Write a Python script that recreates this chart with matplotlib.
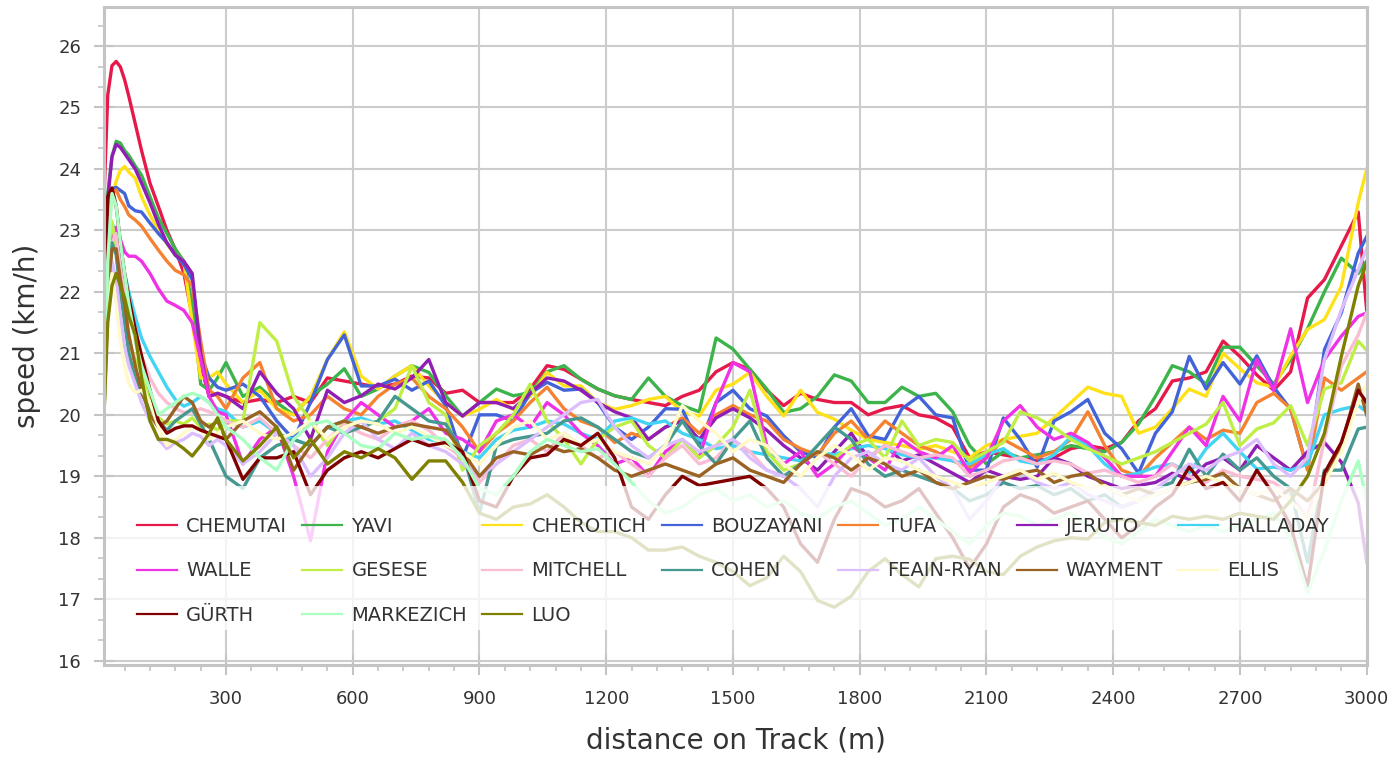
import matplotlib
matplotlib.use("Agg")
import matplotlib.pyplot as plt
from matplotlib.ticker import MultipleLocator
from matplotlib.patches import Rectangle

distance = [10, 20, 30, 40, 50, 60, 70, 85, 100, 120, 140, 160, 180, 200, 220, 240, 260, 280,
            300, 340, 380, 420, 460, 500, 540, 580, 620, 660,
            700, 740, 780, 820, 860, 900, 940, 980, 1020, 1060,
            1100, 1140, 1180, 1220, 1260, 1300, 1340, 1380, 1420, 1460,
            1500, 1540, 1580, 1620, 1660, 1700, 1740, 1780, 1820, 1860,
            1900, 1940, 1980, 2020, 2060, 2100, 2140, 2180, 2220, 2260,
            2300, 2340, 2380, 2420, 2460, 2500, 2540, 2580, 2620, 2660,
            2700, 2740, 2780, 2820, 2860, 2900, 2940, 2980, 3000]

chemutai = [
    23.3, 25.2, 25.68, 25.75, 25.66, 25.45, 25.18, 24.74, 24.3, 23.77, 23.39, 23.0, 22.69, 22.31, 21.6, 20.8, 20.3, 20.35,
    20.3, 20.2, 20.25, 20.2, 20.3, 20.2, 20.6, 20.55, 20.5, 20.45,
    20.5, 20.63, 20.6, 20.35, 20.4, 20.2, 20.2, 20.2, 20.42, 20.8,
    20.74, 20.58, 20.42, 20.31, 20.25, 20.2, 20.15, 20.3, 20.4, 20.7,
    20.85, 20.74, 20.4, 20.15, 20.35, 20.25, 20.2, 20.2, 20.0, 20.1,
    20.15, 20.0, 19.95, 19.8, 19.3, 19.4, 19.35, 19.3, 19.25, 19.3,
    19.45, 19.5, 19.45, 19.55, 19.9, 20.1, 20.55, 20.6, 20.7, 21.2,
    20.95, 20.65, 20.4, 20.7, 21.9, 22.2, 22.75, 23.3, 21.7]

yavi = [
    22.3, 23.6, 24.2, 24.45, 24.42, 24.3, 24.22, 24.05, 23.9, 23.55, 23.2, 22.95, 22.7, 22.5, 21.8, 20.5, 20.4, 20.6,
    20.85, 20.3, 20.45, 20.2, 20.0, 20.3, 20.5, 20.75, 20.3, 20.42,
    20.63, 20.8, 20.69, 20.31, 19.98, 20.2, 20.42, 20.31, 20.36, 20.7,
    20.8, 20.58, 20.42, 20.31, 20.25, 20.6, 20.3, 20.15, 20.05, 21.25,
    21.07, 20.74, 20.42, 20.04, 20.1, 20.3, 20.65, 20.55, 20.2, 20.2,
    20.45, 20.3, 20.35, 20.05, 19.5, 19.2, 19.4, 19.3, 19.35, 19.4,
    19.5, 19.45, 19.4, 19.55, 19.85, 20.3, 20.8, 20.7, 20.5, 21.1,
    21.1, 20.8, 20.5, 20.9, 21.4, 22.0, 22.55, 22.3, 22.5]

cherotich = [
    21.5, 23.0, 23.55, 23.8, 23.98, 24.04, 23.95, 23.85, 23.55, 23.25, 23.0, 22.78, 22.6, 22.5, 21.5, 20.6, 20.6, 20.7,
    20.5, 20.2, 20.4, 20.1, 20.0, 20.3, 20.9, 21.35, 20.63, 20.42,
    20.63, 20.8, 20.47, 20.2, 19.98, 20.09, 20.25, 20.09, 20.3, 20.69,
    20.47, 20.47, 20.2, 20.09, 20.15, 20.25, 20.3, 20.05, 19.98, 20.4,
    20.5, 20.69, 20.3, 19.98, 20.4, 20.04, 19.93, 19.75, 19.6, 19.55,
    19.5, 19.44, 19.5, 19.4, 19.3, 19.5, 19.6, 19.65, 19.7, 19.95,
    20.2, 20.45, 20.35, 20.3, 19.7, 19.8, 20.1, 20.42, 20.3, 21.0,
    20.75, 20.52, 20.45, 20.96, 21.39, 21.55, 22.09, 23.45, 24.0]

bouzayani = [
    22.0, 23.4, 23.68, 23.7, 23.65, 23.6, 23.4, 23.32, 23.3, 23.12, 22.95, 22.8, 22.6, 22.45, 22.2, 21.0, 20.6, 20.45,
    20.4, 20.5, 20.3, 19.9, 19.6, 20.2, 20.9, 21.3, 20.47, 20.47,
    20.58, 20.4, 20.55, 20.15, 19.3, 20.0, 20.0, 19.9, 20.35, 20.53,
    20.4, 20.42, 20.2, 19.8, 19.6, 19.8, 20.1, 20.09, 19.5, 20.2,
    20.4, 20.1, 19.98, 19.66, 19.4, 19.3, 19.8, 20.1, 19.66, 19.6,
    20.1, 20.3, 20.0, 19.95, 19.1, 19.1, 19.95, 19.6, 19.15, 19.9,
    20.05, 20.25, 19.7, 19.45, 19.05, 19.7, 20.05, 20.95, 20.42, 20.85,
    20.5, 20.96, 20.45, 20.09, 19.12, 21.06, 21.66, 22.63, 22.9]

tufa = [
    21.5, 23.3, 23.6, 23.66, 23.5, 23.39, 23.25, 23.17, 23.07, 22.87, 22.68, 22.5, 22.35, 22.28, 22.1, 21.2, 20.4, 20.3,
    20.1, 20.6, 20.85, 20.1, 19.9, 20.0, 20.3, 20.1, 20.0, 20.3,
    20.5, 20.6, 20.3, 20.1, 19.8, 19.4, 19.7, 19.9, 20.2, 20.45,
    20.1, 19.9, 19.8, 19.55, 19.7, 19.6, 19.8, 19.95, 19.7, 20.0,
    20.15, 20.0, 19.9, 19.6, 19.45, 19.35, 19.7, 19.9, 19.6, 19.9,
    19.7, 19.5, 19.4, 19.25, 19.15, 19.3, 19.6, 19.45, 19.3, 19.4,
    19.6, 20.05, 19.5, 19.1, 19.0, 19.3, 19.55, 19.8, 19.6, 19.75,
    19.7, 20.2, 20.35, 20.1, 19.1, 20.6, 20.4, 20.6, 20.7]

jeruto = [
    22.0, 23.5, 24.2, 24.4, 24.35, 24.25, 24.15, 24.0, 23.77, 23.45, 23.1, 22.8, 22.6, 22.5, 22.3, 21.0, 20.3, 20.35,
    20.3, 20.1, 20.7, 20.35, 20.1, 19.6, 20.4, 20.2, 20.31, 20.5,
    20.42, 20.6, 20.9, 20.2, 19.98, 20.2, 20.2, 20.1, 20.35, 20.6,
    20.55, 20.4, 20.2, 20.05, 19.95, 19.6, 19.8, 19.9, 19.6, 19.95,
    20.1, 19.95, 19.75, 19.5, 19.3, 19.1, 19.4, 19.7, 19.3, 19.5,
    19.25, 19.35, 19.2, 19.05, 18.9, 19.1, 19.0, 18.95, 19.0, 19.3,
    19.2, 19.0, 18.9, 18.8, 18.85, 18.9, 19.05, 18.95, 19.2, 19.3,
    19.1, 19.5, 19.3, 19.1, 19.4, 19.55, 19.23, 18.57, 17.6]

halladay = [
    21.0, 22.6, 23.1, 23.0, 22.7, 22.3, 22.0, 21.6, 21.25, 20.95, 20.7, 20.45, 20.25, 20.14, 20.2, 20.3, 20.2, 20.1,
    20.05, 19.8, 19.9, 19.7, 19.6, 19.5, 19.8, 19.9, 19.95, 19.85,
    19.9, 19.75, 19.6, 19.55, 19.4, 19.3, 19.6, 19.75, 19.8, 19.9,
    19.85, 19.7, 19.6, 19.9, 19.95, 19.85, 19.9, 19.7, 19.6, 19.45,
    19.5, 19.4, 19.35, 19.3, 19.25, 19.4, 19.35, 19.45, 19.5, 19.45,
    19.35, 19.3, 19.3, 19.25, 19.2, 19.35, 19.45, 19.25, 19.2, 19.35,
    19.65, 19.5, 19.2, 19.0, 19.05, 19.15, 19.2, 19.05, 19.45, 19.7,
    19.4, 19.12, 19.15, 19.1, 19.2, 20.0, 20.09, 20.15, 20.05]

walle = [
    21.0, 22.4, 22.9, 23.05, 22.85, 22.65, 22.58, 22.58, 22.5, 22.3, 22.05, 21.85, 21.78, 21.7, 21.5, 20.9, 20.3, 20.05,
    20.0, 19.2, 19.6, 19.8, 19.0, 17.95, 19.4, 19.9, 20.2, 20.0,
    19.8, 19.9, 20.1, 19.7, 19.6, 19.4, 19.9, 20.0, 19.8, 20.2,
    20.0, 19.7, 19.5, 19.2, 19.3, 19.0, 19.4, 19.6, 19.3, 20.2,
    20.85, 20.7, 19.5, 19.2, 19.4, 19.0, 19.2, 19.5, 19.3, 19.1,
    19.6, 19.4, 19.3, 19.5, 19.06, 19.3, 19.9, 20.15, 19.8, 19.6,
    19.7, 19.55, 19.3, 19.0, 19.0, 19.0, 19.4, 19.8, 19.5, 20.3,
    19.9, 20.9, 20.4, 21.4, 20.2, 20.9, 21.28, 21.6, 21.66]

gesese = [
    21.0, 22.6, 23.15, 22.7, 22.0, 21.6, 21.2, 20.9, 20.7, 20.3, 19.95, 19.85, 19.9, 19.85, 19.95, 19.8, 19.85, 19.75,
    19.9, 19.9, 21.5, 21.2, 20.3, 19.9, 19.5, 19.9, 19.8, 19.9,
    20.1, 20.8, 20.2, 20.0, 19.1, 19.5, 19.7, 20.0, 20.5, 19.9,
    19.6, 19.2, 19.6, 19.8, 19.9, 19.5, 19.3, 19.6, 19.3, 19.5,
    19.8, 20.4, 19.4, 19.1, 19.2, 19.4, 19.3, 19.5, 19.6, 19.3,
    19.9, 19.5, 19.6, 19.55, 19.25, 19.4, 19.55, 20.05, 19.95, 19.8,
    19.6, 19.45, 19.33, 19.2, 19.3, 19.4, 19.55, 19.7, 19.85, 20.2,
    19.5, 19.77, 19.87, 20.15, 19.5, 20.42, 20.52, 21.2, 21.05]

mitchell = [
    20.5, 22.0, 22.8, 22.95, 22.4, 22.0, 21.7, 21.33, 20.96, 20.6, 20.35, 20.2, 20.1, 20.04, 20.05, 20.1, 20.05, 20.0,
    19.9, 19.8, 19.95, 19.7, 19.5, 19.3, 19.6, 19.85, 19.7, 19.6,
    19.8, 19.9, 19.75, 19.5, 19.3, 18.9, 19.2, 19.5, 19.6, 19.4,
    19.7, 19.5, 19.3, 19.4, 19.2, 19.0, 19.3, 19.5, 19.2, 19.3,
    19.6, 19.4, 19.1, 19.0, 19.2, 19.4, 19.2, 19.0, 19.3, 19.5,
    19.4, 19.3, 19.35, 19.3, 19.0, 19.1, 19.25, 19.3, 19.2, 19.25,
    19.2, 19.05, 19.1, 19.0, 18.9, 19.0, 19.2, 19.0, 18.9, 19.1,
    19.0, 18.95, 18.9, 18.7, 18.3, 19.6, 20.79, 21.3, 21.66]

cohen = [
    19.8, 21.8, 22.8, 22.6, 22.0, 21.5, 21.0, 20.6, 20.35, 20.1, 19.9, 19.75, 19.9, 20.0, 20.1, 19.85, 19.6, 19.3,
    19.0, 18.8, 19.3, 19.5, 19.6, 19.5, 19.8, 19.7, 19.8, 19.9,
    20.3, 20.1, 19.9, 19.85, 19.4, 18.4, 19.5, 19.6, 19.65, 19.7,
    19.9, 19.95, 19.8, 19.6, 19.4, 19.3, 19.5, 19.9, 19.5, 19.2,
    19.6, 19.9, 19.3, 19.0, 19.2, 19.5, 19.8, 19.6, 19.2, 19.0,
    19.1, 19.0, 18.9, 18.8, 18.6, 18.7, 18.9, 18.8, 18.85, 18.7,
    18.8, 18.6, 18.7, 18.5, 18.6, 18.8, 18.9, 19.44, 19.0, 19.36,
    19.1, 19.3, 19.0, 18.8, 17.6, 19.1, 19.1, 19.77, 19.8]

feain_ryan = [
    20.0, 21.8, 22.5, 22.2, 21.6, 21.1, 20.8, 20.5, 20.2, 19.9, 19.6, 19.45, 19.55, 19.6, 19.7, 19.65, 19.5, 19.6,
    19.5, 19.2, 19.4, 19.7, 19.5, 19.0, 19.3, 19.7, 19.9, 19.6,
    19.45, 19.7, 19.5, 19.4, 19.2, 19.0, 19.2, 19.4, 19.6, 19.8,
    20.0, 20.2, 20.25, 19.8, 19.5, 19.3, 19.5, 19.6, 19.4, 19.5,
    19.6, 19.3, 19.1, 19.0, 18.8, 18.5, 19.0, 19.3, 19.4, 19.2,
    19.1, 19.3, 19.0, 18.8, 18.3, 18.6, 19.0, 19.1, 18.9, 18.8,
    18.9, 18.7, 18.6, 18.5, 18.6, 18.8, 19.0, 19.2, 19.1, 19.3,
    19.4, 19.6, 19.2, 19.0, 19.3, 20.9, 21.71, 22.36, 22.7]

wayment = [
    20.5, 22.0, 22.7, 22.7, 22.2, 21.8, 21.3, 20.8, 20.4, 20.0, 19.8, 19.9, 20.1, 20.3, 20.2, 19.9, 19.8, 19.9,
    19.6, 19.9, 20.05, 19.8, 19.1, 19.5, 19.8, 19.9, 19.8, 19.7,
    19.8, 19.85, 19.8, 19.75, 19.4, 19.0, 19.3, 19.4, 19.35, 19.5,
    19.4, 19.45, 19.3, 19.1, 19.0, 19.1, 19.2, 19.1, 19.0, 19.2,
    19.3, 19.1, 19.0, 18.9, 19.2, 19.4, 19.3, 19.1, 19.3, 19.2,
    19.0, 19.1, 18.9, 18.8, 18.9, 19.0, 18.95, 19.05, 19.1, 18.9,
    19.0, 19.05, 18.85, 18.7, 18.8, 18.7, 18.8, 18.9, 18.95, 19.05,
    18.8, 18.7, 18.6, 18.8, 18.6, 18.9, 19.5, 20.5, 20.0]

ellis = [
    20.0, 21.8, 22.3, 21.8, 21.2, 20.8, 20.5, 20.36, 20.4, 20.2, 19.8, 19.5, 19.6, 19.7, 19.8, 19.75, 19.6, 19.7,
    19.8, 19.9, 19.7, 19.6, 19.7, 19.9, 19.6, 19.8, 19.9, 19.85,
    19.7, 19.8, 19.65, 19.5, 19.4, 19.2, 19.5, 19.8, 19.9, 19.6,
    19.7, 19.5, 19.6, 19.4, 19.3, 19.2, 19.5, 20.15, 19.9, 19.7,
    19.4, 19.6, 19.5, 19.2, 19.0, 19.3, 19.5, 19.35, 19.1, 19.3,
    19.25, 19.1, 19.0, 18.9, 18.8, 18.9, 19.0, 19.1, 18.95, 19.05,
    18.9, 18.8, 18.85, 18.7, 18.6, 18.7, 18.8, 18.9, 19.0, 18.9,
    18.8, 18.7, 18.8, 18.6, 18.3, 18.9, 19.4, 20.2, 20.5]

gurth = [
    21.5, 23.55, 23.69, 23.4, 22.8, 22.3, 21.9, 21.4, 20.96, 20.4, 19.9, 19.7, 19.78, 19.82, 19.82, 19.75, 19.7, 19.65,
    19.6, 18.95, 19.3, 19.3, 19.4, 18.7, 19.1, 19.3, 19.4, 19.3,
    19.45, 19.6, 19.5, 19.55, 19.4, 18.6, 18.5, 19.0, 19.3, 19.35,
    19.6, 19.5, 19.7, 19.3, 18.5, 18.3, 18.7, 19.0, 18.85, 18.9,
    18.95, 19.0, 18.8, 18.5, 17.9, 17.6, 18.3, 18.8, 18.7, 18.5,
    18.6, 18.8, 18.4, 18.0, 17.5, 17.9, 18.5, 18.7, 18.6, 18.4,
    18.5, 18.6, 18.3, 18.0, 18.2, 18.5, 18.7, 19.15, 18.8, 18.9,
    18.6, 19.1, 18.7, 18.2, 17.2, 19.05, 19.55, 20.4, 20.2]

markezich = [
    19.6, 22.5, 23.6, 23.4, 22.8, 22.3, 21.8, 21.2, 20.8, 20.4, 20.0, 20.1, 20.2, 20.3, 20.35, 20.3, 20.2, 20.0,
    19.8, 19.6, 19.3, 19.1, 19.6, 19.85, 19.9, 19.7, 19.5, 19.45,
    19.7, 19.6, 19.65, 19.6, 19.3, 18.8, 18.7, 19.0, 19.4, 19.6,
    19.5, 19.4, 19.45, 19.2, 18.9, 18.6, 18.4, 18.5, 18.7, 18.8,
    18.6, 18.7, 18.5, 18.6, 18.4, 18.3, 18.5, 18.6, 18.4, 18.2,
    18.3, 18.5, 18.3, 18.1, 17.9, 18.2, 18.4, 18.35, 18.2, 18.3,
    18.4, 18.2, 18.0, 17.9, 18.1, 18.3, 18.2, 18.1, 18.2, 18.1,
    18.2, 18.3, 18.4, 18.0, 17.1, 17.8, 18.6, 19.25, 18.6]

luo = [
    19.8, 21.5, 22.1, 22.3, 22.1, 21.9, 21.6, 21.3, 20.6, 19.9, 19.6, 19.6, 19.55, 19.45, 19.33, 19.5, 19.7, 19.95,
    19.6, 19.25, 19.5, 19.8, 19.3, 19.6, 19.2, 19.4, 19.3, 19.45,
    19.3, 18.95, 19.25, 19.25, 18.9, 18.4, 18.3, 18.5, 18.55, 18.7,
    18.5, 18.25, 18.1, 18.1, 18.0, 17.8, 17.8, 17.85, 17.7, 17.6,
    17.45, 17.22, 17.35, 17.7, 17.45, 16.98, 16.87, 17.05, 17.45, 17.66,
    17.4, 17.2, 17.66, 17.7, 17.65, 17.45, 17.4, 17.7, 17.85, 17.95,
    18.0, 17.98, 18.25, 18.3, 18.25, 18.2, 18.35, 18.3, 18.35, 18.3,
    18.4, 18.35, 18.3, 18.6, 19.0, 19.7, 20.95, 22.1, 22.47]

runners = ["CHEMUTAI", "YAVI", "CHEROTICH", "BOUZAYANI", "TUFA", "JERUTO", "HALLADAY",
           "WALLE", "GESESE", "MITCHELL", "COHEN", "FEAIN-RYAN", "WAYMENT", "ELLIS",
           "GÜRTH", "MARKEZICH", "LUO"]
speeds = [chemutai, yavi, cherotich, bouzayani, tufa, jeruto, halladay,
          walle, gesese, mitchell, cohen, feain_ryan, wayment, ellis,
          gurth, markezich, luo]
colors = ["#e6194b", "#3cb44b", "#ffe119", "#4363d8", "#f58231", "#911eb4", "#42d4f4",
          "#f032e6", "#bfef45", "#fabed4", "#469990", "#dcbeff", "#9a6324", "#fffac8",
          "#800000", "#aaffc3", "#808000"]

TXT = "#333333"
GRID = "#cccccc"
FRAME = "#c4c4c4"

fig = plt.figure(figsize=(13.93, 7.6), dpi=100)
ax = fig.add_axes([0.0747, 0.125, 0.9067, 0.8662])

handles = []
for name, vals, col in zip(runners, speeds, colors):
    h, = ax.plot(distance, vals, color=col, lw=2.4, label=name, zorder=2)
    handles.append(h)

ax.set_xlim(11.3, 3001)
ax.set_ylim(15.93, 26.64)
ax.xaxis.set_major_locator(MultipleLocator(300))
ax.xaxis.set_minor_locator(MultipleLocator(60))
ax.yaxis.set_major_locator(MultipleLocator(1))
ax.yaxis.set_minor_locator(MultipleLocator(1 / 3))

ax.set_axisbelow(True)
ax.grid(True, which="major", color=GRID, lw=1.5)
for s in ax.spines.values():
    s.set_color(FRAME)
    s.set_linewidth(2.2)

ax.tick_params(which="major", direction="inout", length=14, width=1.5, color=FRAME,
               labelsize=13, labelcolor=TXT)
ax.tick_params(axis="y", which="major", pad=9.5)
ax.tick_params(axis="x", which="major", pad=11)
ax.tick_params(which="minor", direction="out", length=4, width=1.2, color=FRAME)

ax.set_xlabel("distance on Track (m)", fontsize=20, color=TXT, labelpad=13)
ax.set_ylabel("speed (km/h)", fontsize=20, color=TXT, labelpad=12)

bg = Rectangle((0, 0.0532), 1, 0.2187, transform=ax.transAxes, facecolor="white",
               edgecolor="none", alpha=0.78, zorder=2.3)
ax.add_patch(bg)

ncol = 7
order = []
for c in range(ncol):
    for r in range(3):
        i = r * ncol + c
        if i < len(handles):
            order.append(i)
leg = ax.legend([handles[i] for i in order], [runners[i] for i in order],
                loc="upper left", bbox_to_anchor=(0.02613, 0.0, 0.9438, 0.2248),
                mode="expand", ncol=ncol, frameon=False, fontsize=14,
                handlelength=2.06, handletextpad=0.46, labelspacing=1.31,
                borderpad=0, borderaxespad=0)
leg.set_zorder(2.4)
for t in leg.get_texts():
    t.set_color(TXT)
for l in leg.get_lines():
    l.set_linewidth(1.6)

fig.savefig("out.png", dpi=100)
